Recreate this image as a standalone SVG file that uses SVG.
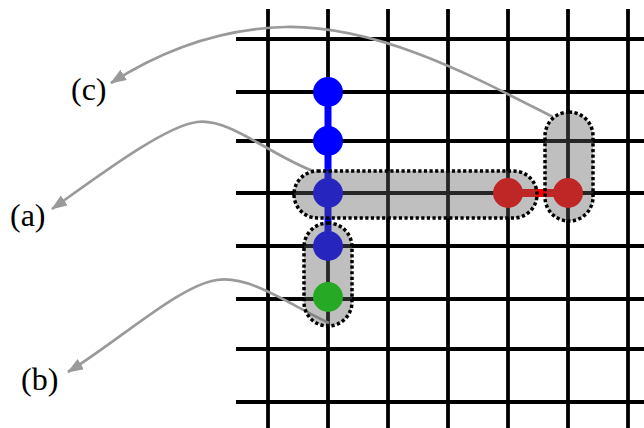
<svg xmlns="http://www.w3.org/2000/svg" width="644" height="428" viewBox="0 0 644 428">
<style>
.grid line{stroke:#000;stroke-width:3.8}
.hull{fill:rgb(95,95,95);fill-opacity:0.4;stroke:#000;stroke-width:3.5;stroke-dasharray:3.2 2.4}
.lbl{font-family:"Liberation Serif","Times New Roman",serif;font-size:32px;fill:#000}
.callout{fill:none;stroke:#9a9a9a;stroke-width:2.7}
</style>
<defs>
<marker id="ah" markerUnits="userSpaceOnUse" markerWidth="18" markerHeight="14" refX="15" refY="6" orient="auto">
<path d="M0,0 L16,6 L0,12 z" fill="#9a9a9a"/>
</marker>
</defs>
<rect width="644" height="428" fill="#fff"/>
<g class="grid" id="grid">
<line x1="268" y1="9" x2="268" y2="428"/>
<line x1="328" y1="9" x2="328" y2="428"/>
<line x1="388" y1="9" x2="388" y2="428"/>
<line x1="448" y1="9" x2="448" y2="428"/>
<line x1="508" y1="9" x2="508" y2="428"/>
<line x1="568" y1="9" x2="568" y2="428"/>
<line x1="628" y1="9" x2="628" y2="428"/>
<line x1="236" y1="39" x2="644" y2="39"/>
<line x1="236" y1="92" x2="644" y2="92"/>
<line x1="236" y1="141" x2="644" y2="141"/>
<line x1="236" y1="193" x2="644" y2="193"/>
<line x1="236" y1="246" x2="644" y2="246"/>
<line x1="236" y1="299" x2="644" y2="299"/>
<line x1="236" y1="349" x2="644" y2="349"/>
<line x1="236" y1="402" x2="644" y2="402"/>
</g>
<g id="connectors">
<line x1="328" y1="92" x2="328" y2="246" stroke="#0000ff" stroke-width="7"/>
<line x1="508" y1="193" x2="568" y2="193" stroke="#ff0000" stroke-width="8"/>
<path class="callout" d="M553,117 C480,80 380,25 285,27 C210,29 150,58 111,83" marker-end="url(#ah)"/>
<path class="callout" d="M313,171 C270,155 230,118 197,122 C165,126 100,175 52,209" marker-end="url(#ah)"/>
<path class="callout" d="M329,323 C290,305 250,275 217,280 C180,285 120,340 68,372" marker-end="url(#ah)"/>
</g>
<g id="nodes">
<circle id="n1" cx="328" cy="92" r="15" fill="#0000ff"/>
<circle id="n2" cx="328" cy="141" r="15" fill="#0000ff"/>
<circle id="n3" cx="328" cy="193" r="15" fill="#0000ff"/>
<circle id="n4" cx="328" cy="246" r="15" fill="#0000ff"/>
<circle id="n5" cx="328" cy="297" r="15" fill="#00dc00"/>
<circle id="n6" cx="508" cy="193" r="15" fill="#ff0000"/>
<circle id="n7" cx="568" cy="193" r="15" fill="#ff0000"/>
</g>
<g id="hulls">
<rect id="hull-a" class="hull" x="294" y="171" width="243" height="47" rx="23.5"/>
<rect id="hull-b" class="hull" x="304" y="223" width="48" height="103" rx="24"/>
<rect id="hull-c" class="hull" x="545" y="112" width="48" height="109" rx="24"/>
</g>
<g id="labels">
<text id="label-c" class="lbl" x="71" y="100">(c)</text>
<text id="label-a" class="lbl" x="10" y="226">(a)</text>
<text id="label-b" class="lbl" x="21" y="390">(b)</text>
</g>
</svg>
